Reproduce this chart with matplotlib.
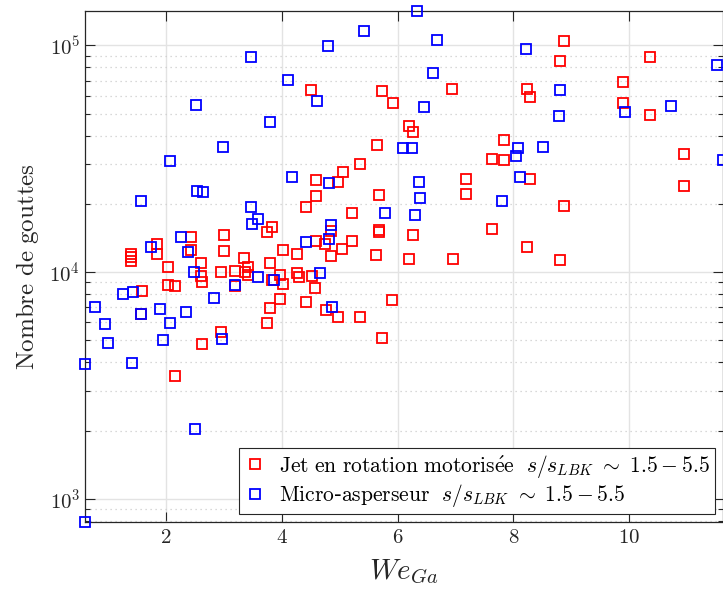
import numpy as np
import matplotlib
matplotlib.use("Agg")
import matplotlib.pyplot as plt
from matplotlib.ticker import LogLocator, FixedLocator, FuncFormatter, NullFormatter

plt.rcParams['mathtext.fontset'] = 'cm'

# Jet en rotation motorisee (rouge)
jet_we = [1.395, 1.395, 1.395, 1.586, 1.574, 1.845, 1.845, 2.040, 2.040, 2.156,
          2.156, 2.438, 2.438, 2.599, 2.599, 2.628, 2.628, 2.957, 2.957, 3.009,
          3.009, 3.187, 3.187, 3.346, 3.419, 3.372, 3.419, 3.747, 3.827, 3.799,
          3.827, 3.804, 3.747, 3.960, 3.960, 4.015, 4.017, 4.259, 4.262, 4.294,
          4.410, 4.513, 4.577, 4.591, 4.752, 4.854, 5.046, 5.217, 4.755, 4.968,
          5.343, 5.727, 5.632, 5.675, 5.905, 4.508, 5.729, 5.919, 6.946, 6.191,
          6.268, 5.637, 5.343, 5.049, 4.971, 4.582, 4.591, 4.409, 5.217, 5.675,
          5.672, 4.850, 6.265, 6.191, 6.951, 7.180, 7.180, 7.638, 7.833, 7.833,
          8.288, 7.638, 8.236, 8.876, 8.802, 8.236, 8.283, 9.891, 9.891, 10.353,
          10.353, 10.941, 10.941, 8.876, 8.802]
jet_n = [12010, 11600, 11220, 8270, 6564, 13270, 12010, 10550, 8788, 8726,
         3493, 14220, 12460, 10960, 9563, 9088, 4837, 10000, 5431, 14620,
         12330, 10160, 8640, 11510, 10520, 9960, 9699, 15070, 15810, 10960,
         9183, 6977, 5952, 9680, 7621, 12520, 8851, 12070, 9879, 9533,
         7368, 9581, 8524, 13650, 13240, 11800, 12650, 13650, 6815, 6346,
         6326, 5140, 11950, 14960, 7505, 63250, 62620, 55830, 64370, 44310,
         41560, 36400, 29890, 27610, 24890, 25500, 21740, 19380, 18280, 21850,
         15300, 15110, 14570, 11390, 11430, 25710, 22180, 31680, 31260, 38420,
         25840, 15460, 12940, 104900, 85580, 64370, 59070, 69130, 55430, 88780,
         49560, 33330, 24060, 19580, 11300]

# Micro-asperseur (bleu)
micro_we = [0.600, 0.600, 0.766, 0.951, 1.003, 1.257, 1.423, 1.406, 1.561, 1.741,
            1.890, 1.954, 2.063, 2.260, 2.340, 2.386, 2.485, 2.824, 2.502, 2.969,
            3.187, 1.574, 2.070, 2.513, 2.530, 2.634, 2.992, 3.471, 3.471, 3.585,
            3.481, 3.792, 4.110, 4.180, 3.585, 3.861, 4.422, 4.605, 4.652, 4.795,
            4.819, 4.819, 4.854, 4.871, 5.425, 5.776, 6.087, 6.255, 6.294, 6.329,
            6.364, 6.393, 6.450, 6.611, 6.680, 7.799, 8.049, 8.081, 8.110, 8.214,
            8.503, 8.784, 8.807, 9.931, 10.721, 11.511, 11.620]
micro_n = [790, 3940, 7047, 5910, 4858, 8020, 8210, 3987, 6564, 12897,
           6906, 5007, 5988, 14280, 6677, 12259, 9960, 7698, 2037, 5074,
           8788, 20590, 31030, 54480, 22710, 22570, 35790, 89150, 19300, 17200,
           16350, 46000, 70270, 26370, 9505, 9248, 13515, 56750, 9900, 99700,
           24740, 13990, 16180, 7047, 116150, 18280, 35430, 35430, 17860, 141800,
           24890, 21230, 53590, 75200, 105540, 20660, 32490, 35250, 26370, 96700,
           35610, 48570, 63250, 51090, 54140, 82170, 31130]

label_jet = r'$\mathrm{Jet\ en\ rotation\ motoris\acute{e}e}\ \ s/s_{LBK}\ \sim\ 1.5-5.5$'
label_micro = r'$\mathrm{Micro}$-$\mathrm{asperseur}\ \ s/s_{LBK}\ \sim\ 1.5-5.5$'

fig = plt.figure(figsize=(7.23, 5.90), dpi=100)
ax = fig.add_axes([85 / 723, 68 / 590, 638 / 723, 511 / 590])

ax.plot(jet_we, jet_n, 's', ls='none', mfc='none', mec='#ff0000', ms=7.2, mew=1.3,
        label=label_jet, clip_on=False, zorder=3)
ax.plot(micro_we, micro_n, 's', ls='none', mfc='none', mec='#0000ff', ms=7.2, mew=1.3,
        label=label_micro, clip_on=False, zorder=3)

ax.set_yscale('log')
all_we = jet_we + micro_we
all_n = jet_n + micro_n
ax.set_xlim(min(all_we), max(all_we))
ax.set_ylim(min(all_n), max(all_n))

ax.xaxis.set_major_locator(FixedLocator([2, 4, 6, 8, 10]))
ax.xaxis.set_major_formatter(FuncFormatter(lambda v, p: r'$\mathrm{%d}$' % v))
ax.yaxis.set_major_locator(LogLocator(base=10))
ax.yaxis.set_major_formatter(FuncFormatter(lambda v, p: r'$\mathrm{10^{%d}}$' % round(np.log10(v))))
ax.yaxis.set_minor_locator(LogLocator(base=10, subs=np.arange(2, 10)))
ax.yaxis.set_minor_formatter(NullFormatter())

ax.grid(True, which='major', color='#e3e3e3', lw=1.0, ls='-')
ax.grid(True, which='minor', axis='y', color='#cccccc', lw=0.9, ls=(0, (1, 3)))
ax.set_axisbelow(True)

ax.tick_params(which='both', direction='in', top=True, right=True, colors='#262626',
               labelsize=15, width=0.8)
ax.tick_params(which='major', length=7)
ax.tick_params(which='minor', length=3.5)
for s in ax.spines.values():
    s.set_color('#262626')
    s.set_linewidth(0.9)

ax.set_xlabel(r'$We_{Ga}$', fontsize=21, color='#262626', labelpad=8)
ax.set_ylabel(r'$\mathrm{Nombre\ de\ gouttes}$', fontsize=18, color='#262626', labelpad=6)

leg = ax.legend(loc='lower right', fontsize=15.5, frameon=True, fancybox=False,
                edgecolor='#262626', framealpha=1, handlelength=1.0, handletextpad=0.6,
                borderpad=0.25, labelspacing=0.1, borderaxespad=0.35)
leg.get_frame().set_linewidth(0.8)

fig.savefig('out.png', dpi=100)
